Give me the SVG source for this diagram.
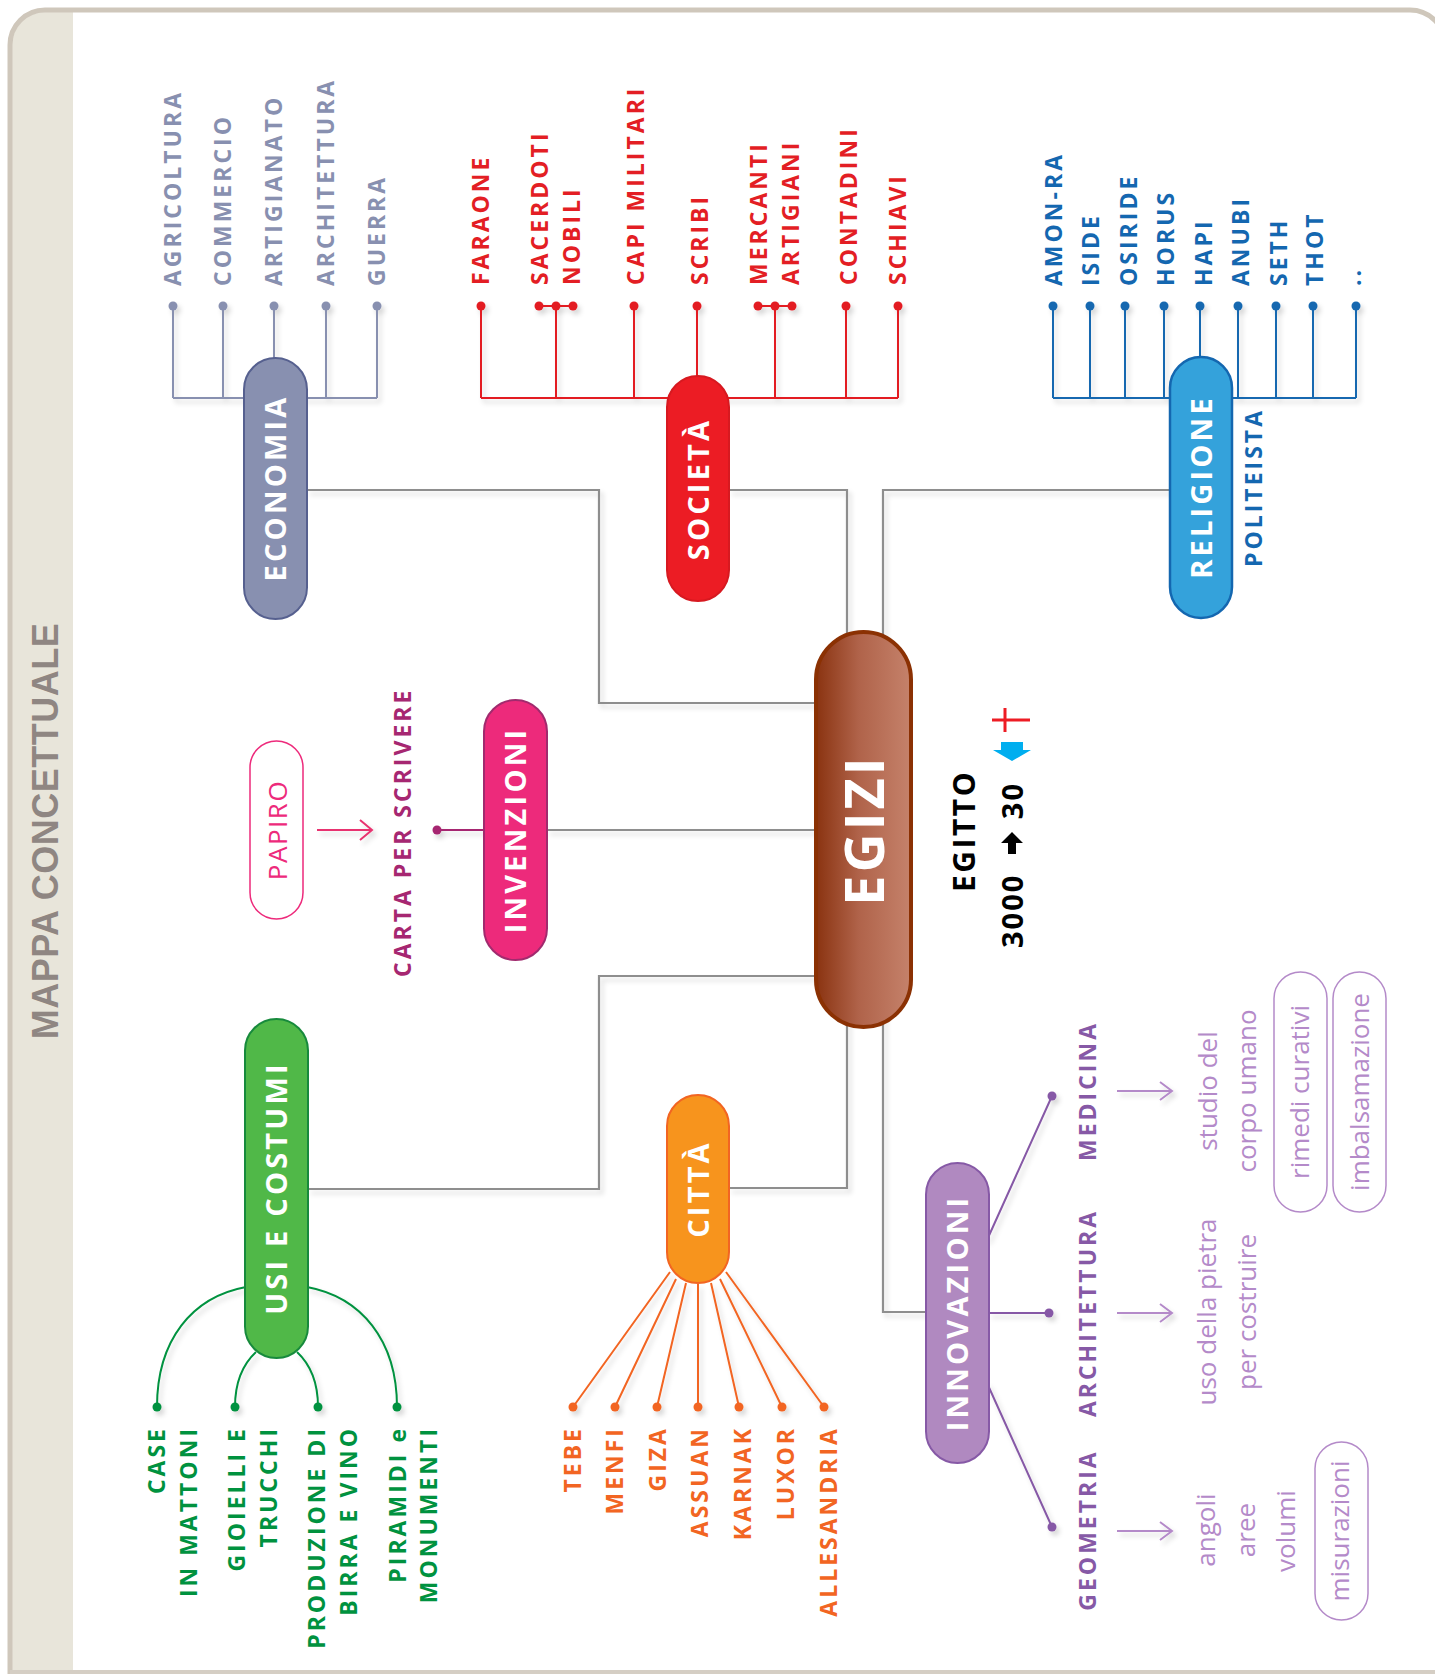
<svg xmlns="http://www.w3.org/2000/svg" width="1435" height="1674" viewBox="0 0 1435 1674">
<defs>
<linearGradient id="egz" x1="0" y1="0" x2="1" y2="0">
<stop offset="0" stop-color="#8a3310"/>
<stop offset="0.45" stop-color="#b0634a"/>
<stop offset="1" stop-color="#c5826b"/>
</linearGradient>
<filter id="sh" filterUnits="userSpaceOnUse" x="0" y="0" width="1435" height="1674">
<feDropShadow dx="3" dy="4" stdDeviation="2.5" flood-color="#000" flood-opacity="0.16"/>
</filter>
</defs>
<style>
text{font-family:"Open Sans","Noto Sans","DejaVu Sans",sans-serif}
.pt{fill:#fff;font-weight:700;font-size:29px;letter-spacing:3.2px;text-anchor:middle}
.lf{font-weight:700;font-size:23px;letter-spacing:3px}
.le{text-anchor:end}
.mid{text-anchor:middle}
.lt{font-weight:400;font-size:26px;fill:#b48ac9;text-anchor:middle}
.gc{fill:none;stroke:#8e8e8e;stroke-width:2.2}
.eco{stroke:#8890b0;fill:none;stroke-width:2}
.soc{stroke:#e31e24;fill:none;stroke-width:2}
.rel{stroke:#1467b0;fill:none;stroke-width:2}
.grn{stroke:#00923f;fill:none;stroke-width:2}
.org{stroke:#f26522;fill:none;stroke-width:2}
.pur{stroke:#8659a6;fill:none;stroke-width:2}
.lpa{stroke:#b48ac9;fill:none;stroke-width:2}
.box{fill:#fff;stroke:#b48ac9;stroke-width:1.5}
</style>

<!-- frame -->
<rect x="0" y="0" width="1435" height="1674" fill="#fff"/>
<path d="M12,1674 V45 A33,33 0 0 1 45,12 H73 V1674 Z" fill="#e8e5da"/>
<path d="M10,1680 V45 A35,35 0 0 1 45,10 H1410 A35,35 0 0 1 1445,45 V1680" fill="none" stroke="#cfc7bb" stroke-width="5"/>
<line x1="10" y1="1672" x2="1435" y2="1672" stroke="#d5cec4" stroke-width="4"/>
<text transform="translate(58,831) rotate(-90)" text-anchor="middle" style="font-family:'Liberation Sans',Arial,sans-serif;font-weight:700;font-size:36px;fill:#8f8682;letter-spacing:0.5px">MAPPA CONCETTUALE</text>

<!-- connectors -->
<g id="connectors" filter="url(#sh)">
<path class="gc" d="M307,490 H599 V703 H817"/>
<path class="gc" d="M729,490 H847 V660"/>
<path class="gc" d="M1170,490 H883 V660"/>
<path class="gc" d="M547,830 H817"/>
<path class="gc" d="M308,1189 H599 V976 H817"/>
<path class="gc" d="M729,1188 H847 V1000"/>
<path class="gc" d="M883,1000 V1312 H926"/>

<g id="eco-links">
<path class="eco" d="M173,398 H377 M173,306 V398 M223,306 V398 M274,306 V398 M326,306 V398 M377,306 V398"/>
<g fill="#8890b0"><circle cx="173" cy="306" r="4.5"/><circle cx="223" cy="306" r="4.5"/><circle cx="274" cy="306" r="4.5"/><circle cx="326" cy="306" r="4.5"/><circle cx="377" cy="306" r="4.5"/></g>
</g>
<g id="soc-links">
<path class="soc" d="M481,398 H898 M481,306 V398 M539,306 H573 M556,306 V398 M634,306 V398 M697,306 V398 M758,306 H792 M775,306 V398 M846,306 V398 M898,306 V398"/>
<g fill="#e31e24"><circle cx="481" cy="306" r="4.5"/><circle cx="539" cy="306" r="4.5"/><circle cx="556" cy="306" r="4.5"/><circle cx="573" cy="306" r="4.5"/><circle cx="634" cy="306" r="4.5"/><circle cx="697" cy="306" r="4.5"/><circle cx="758" cy="306" r="4.5"/><circle cx="775" cy="306" r="4.5"/><circle cx="792" cy="306" r="4.5"/><circle cx="846" cy="306" r="4.5"/><circle cx="898" cy="306" r="4.5"/></g>
</g>
<g id="rel-links">
<path class="rel" d="M1053,398 H1356 M1053,306 V398 M1090,306 V398 M1125,306 V398 M1164,306 V398 M1200,306 V398 M1238,306 V398 M1276,306 V398 M1313,306 V398 M1356,306 V398"/>
<g fill="#1467b0"><circle cx="1053" cy="306" r="4.5"/><circle cx="1090" cy="306" r="4.5"/><circle cx="1125" cy="306" r="4.5"/><circle cx="1164" cy="306" r="4.5"/><circle cx="1200" cy="306" r="4.5"/><circle cx="1238" cy="306" r="4.5"/><circle cx="1276" cy="306" r="4.5"/><circle cx="1313" cy="306" r="4.5"/><circle cx="1356" cy="306" r="4.5"/></g>
</g>
<g id="inv-links">
<path d="M437,830 H486" stroke="#a62771" stroke-width="2" fill="none"/>
<circle cx="437" cy="830" r="4.5" fill="#a62771"/>
<path d="M317,830 H372 M360,820 L372,830 L360,840" stroke="#e8336f" stroke-width="2" fill="none"/>
</g>
<g id="usi-links">
<path class="grn" d="M246,1287 C192,1297 157,1340 157,1407"/>
<path class="grn" d="M256,1352 C242,1365 235,1385 235,1407"/>
<path class="grn" d="M297,1352 C311,1365 318,1385 318,1407"/>
<path class="grn" d="M307,1287 C361,1297 397,1340 397,1407"/>
<g fill="#00923f"><circle cx="157" cy="1407" r="4.5"/><circle cx="235" cy="1407" r="4.5"/><circle cx="318" cy="1407" r="4.5"/><circle cx="397" cy="1407" r="4.5"/></g>
</g>
<g id="citta-links">
<path class="org" d="M670,1272 L573,1407 M676,1279 L615,1407 M686,1283 L657,1407 M698,1284 L698,1407 M711,1283 L739,1407 M720,1279 L782,1407 M726,1272 L824,1407"/>
<g fill="#f26522"><circle cx="573" cy="1407" r="4.5"/><circle cx="615" cy="1407" r="4.5"/><circle cx="657" cy="1407" r="4.5"/><circle cx="698" cy="1407" r="4.5"/><circle cx="739" cy="1407" r="4.5"/><circle cx="782" cy="1407" r="4.5"/><circle cx="824" cy="1407" r="4.5"/></g>
</g>
<g id="inn-links">
<path class="pur" d="M987,1240 L1052,1096 M989,1313 H1049 M987,1383 L1052,1527"/>
<g fill="#8659a6"><circle cx="1052" cy="1096" r="4.5"/><circle cx="1049" cy="1313" r="4.5"/><circle cx="1052" cy="1527" r="4.5"/></g>
<path class="lpa" d="M1117,1091 H1172 M1160,1082 L1172,1091 L1160,1100"/>
<path class="lpa" d="M1117,1313 H1172 M1160,1304 L1172,1313 L1160,1322"/>
<path class="lpa" d="M1117,1531 H1172 M1160,1522 L1172,1531 L1160,1540"/>
</g>
</g>

<!-- central node -->
<g id="egizi">
<rect x="816" y="632" width="95" height="395" rx="47.5" fill="url(#egz)" stroke="#8b3103" stroke-width="4"/>
<text transform="translate(884,830) rotate(-90)" text-anchor="middle" style="fill:#fff;font-weight:700;font-size:54px;letter-spacing:3px">EGIZI</text>
</g>

<g id="egitto">
<text transform="translate(975,892) rotate(-90)" style="font-weight:700;font-size:30px;letter-spacing:2.5px;fill:#000">EGITTO</text>
<text transform="translate(1023,948) rotate(-90)" style="font-weight:700;font-size:29px;letter-spacing:2px;fill:#000">3000</text>
<polygon points="1012,832 1023,843 1016,843 1016,854 1008,854 1008,843 1001,843" fill="#000"/>
<text transform="translate(1023,782) rotate(-90)" text-anchor="end" style="font-weight:700;font-size:29px;letter-spacing:2px;fill:#000">30</text>
<polygon points="1001,742 1023,742 1023,750 1031,750 1012,761 993,750 1001,750" fill="#00aeef"/>
<path d="M992,720 H1030 M1005,708 V732" stroke="#ed1c24" stroke-width="3" fill="none"/>
</g>

<g id="economia">
<rect x="244" y="358" width="63" height="261" rx="31.5" fill="#8890b0" stroke="#56608f" stroke-width="2"/>
<text class="pt" transform="translate(286,488) rotate(-90)">ECONOMIA</text>
</g>
<g id="economia-leaves" class="lf" fill="#8890b0">
<text class="lf" transform="translate(181,286) rotate(-90)" fill="#8890b0">AGRICOLTURA</text>
<text class="lf" transform="translate(231,286) rotate(-90)" fill="#8890b0">COMMERCIO</text>
<text class="lf" transform="translate(282,286) rotate(-90)" fill="#8890b0">ARTIGIANATO</text>
<text class="lf" transform="translate(334,286) rotate(-90)" fill="#8890b0">ARCHITETTURA</text>
<text class="lf" transform="translate(385,286) rotate(-90)" fill="#8890b0">GUERRA</text>
</g>

<g id="societa">
<rect x="667" y="376" width="62" height="225" rx="31" fill="#ec1c24" stroke="#d71920" stroke-width="2"/>
<text class="pt" transform="translate(709,489) rotate(-90)">SOCIETÀ</text>
</g>
<g id="societa-leaves">
<text class="lf" transform="translate(489,285) rotate(-90)" fill="#e31e24">FARAONE</text>
<text class="lf" transform="translate(548,285) rotate(-90)" fill="#e31e24">SACERDOTI</text>
<text class="lf" transform="translate(580,285) rotate(-90)" fill="#e31e24">NOBILI</text>
<text class="lf" transform="translate(644,285) rotate(-90)" fill="#e31e24">CAPI MILITARI</text>
<text class="lf" transform="translate(708,285) rotate(-90)" fill="#e31e24">SCRIBI</text>
<text class="lf" transform="translate(767,285) rotate(-90)" fill="#e31e24">MERCANTI</text>
<text class="lf" transform="translate(799,285) rotate(-90)" fill="#e31e24">ARTIGIANI</text>
<text class="lf" transform="translate(857,285) rotate(-90)" fill="#e31e24">CONTADINI</text>
<text class="lf" transform="translate(906,285) rotate(-90)" fill="#e31e24">SCHIAVI</text>
</g>

<g id="religione">
<rect x="1170" y="357" width="62" height="261" rx="31" fill="#34a2db" stroke="#1467b0" stroke-width="2.5"/>
<text class="pt" transform="translate(1212,487) rotate(-90)">RELIGIONE</text>
<text class="lf" transform="translate(1262,567) rotate(-90)" fill="#1467b0">POLITEISTA</text>
</g>
<g id="religione-leaves">
<text class="lf" transform="translate(1062,286) rotate(-90)" fill="#1467b0">AMON-RA</text>
<text class="lf" transform="translate(1099,286) rotate(-90)" fill="#1467b0">ISIDE</text>
<text class="lf" transform="translate(1137,286) rotate(-90)" fill="#1467b0">OSIRIDE</text>
<text class="lf" transform="translate(1174,286) rotate(-90)" fill="#1467b0">HORUS</text>
<text class="lf" transform="translate(1212,286) rotate(-90)" fill="#1467b0">HAPI</text>
<text class="lf" transform="translate(1249,286) rotate(-90)" fill="#1467b0">ANUBI</text>
<text class="lf" transform="translate(1287,286) rotate(-90)" fill="#1467b0">SETH</text>
<text class="lf" transform="translate(1323,286) rotate(-90)" fill="#1467b0">THOT</text>
<text class="lf" transform="translate(1361,286) rotate(-90)" fill="#1467b0">..</text>
</g>

<g id="invenzioni">
<rect x="484" y="700" width="63" height="260" rx="31.5" fill="#ed2a7b" stroke="#a12a6e" stroke-width="2"/>
<text class="pt" transform="translate(526,830) rotate(-90)">INVENZIONI</text>
</g>
<g id="carta">
<text class="lf" transform="translate(411,977) rotate(-90)" fill="#a62771">CARTA PER SCRIVERE</text>
</g>
<g id="papiro">
<rect x="250" y="741" width="53" height="178" rx="26.5" fill="#fff" stroke="#ed2a7b" stroke-width="1.5"/>
<text transform="translate(287,830) rotate(-90)" text-anchor="middle" style="font-size:26px;letter-spacing:1.5px;fill:#ed2a7b">PAPIRO</text>
</g>

<g id="usi-e-costumi">
<rect x="245" y="1019" width="63" height="339" rx="31.5" fill="#50b848" stroke="#178a3c" stroke-width="2"/>
<text class="pt" transform="translate(287,1188) rotate(-90)">USI E COSTUMI</text>
</g>
<g id="usi-leaves">
<text class="lf le" transform="translate(165,1426) rotate(-90)" fill="#00923f">CASE</text>
<text class="lf le" transform="translate(197,1426) rotate(-90)" fill="#00923f">IN MATTONI</text>
<text class="lf le" transform="translate(245,1426) rotate(-90)" fill="#00923f">GIOIELLI E</text>
<text class="lf le" transform="translate(277,1426) rotate(-90)" fill="#00923f">TRUCCHI</text>
<text class="lf le" transform="translate(325,1426) rotate(-90)" fill="#00923f">PRODUZIONE DI</text>
<text class="lf le" transform="translate(357,1426) rotate(-90)" fill="#00923f">BIRRA E VINO</text>
<text class="lf le" transform="translate(406,1426) rotate(-90)" fill="#00923f">PIRAMIDI e</text>
<text class="lf le" transform="translate(437,1426) rotate(-90)" fill="#00923f">MONUMENTI</text>
</g>

<g id="citta">
<rect x="667" y="1095" width="62" height="188" rx="31" fill="#f7941d" stroke="#f26522" stroke-width="2"/>
<text class="pt" transform="translate(709,1189) rotate(-90)">CITTÀ</text>
</g>
<g id="citta-leaves">
<text class="lf le" transform="translate(581,1426) rotate(-90)" fill="#f26522">TEBE</text>
<text class="lf le" transform="translate(623,1426) rotate(-90)" fill="#f26522">MENFI</text>
<text class="lf le" transform="translate(666,1426) rotate(-90)" fill="#f26522">GIZA</text>
<text class="lf le" transform="translate(708,1426) rotate(-90)" fill="#f26522">ASSUAN</text>
<text class="lf le" transform="translate(751,1426) rotate(-90)" fill="#f26522">KARNAK</text>
<text class="lf le" transform="translate(794,1426) rotate(-90)" fill="#f26522">LUXOR</text>
<text class="lf le" transform="translate(837,1426) rotate(-90)" fill="#f26522">ALLESANDRIA</text>
</g>

<g id="innovazioni">
<rect x="926" y="1163" width="63" height="300" rx="31.5" fill="#b089c0" stroke="#8659a6" stroke-width="2"/>
<text class="pt" transform="translate(968,1313) rotate(-90)">INNOVAZIONI</text>
</g>
<g id="medicina">
<text class="lf mid" transform="translate(1096,1091) rotate(-90)" fill="#8659a6">MEDICINA</text>
<text class="lt" transform="translate(1217,1091) rotate(-90)">studio del</text>
<text class="lt" transform="translate(1256,1091) rotate(-90)">corpo umano</text>
<rect class="box" x="1274" y="972" width="53" height="240" rx="26.5"/>
<text class="lt" transform="translate(1309,1092) rotate(-90)">rimedi curativi</text>
<rect class="box" x="1333" y="972" width="53" height="240" rx="26.5"/>
<text class="lt" transform="translate(1369,1092) rotate(-90)">imbalsamazione</text>
</g>
<g id="architettura">
<text class="lf mid" transform="translate(1096,1313) rotate(-90)" fill="#8659a6">ARCHITETTURA</text>
<text class="lt" transform="translate(1216,1312) rotate(-90)">uso della pietra</text>
<text class="lt" transform="translate(1256,1312) rotate(-90)">per costruire</text>
</g>
<g id="geometria">
<text class="lf mid" transform="translate(1096,1530) rotate(-90)" fill="#8659a6">GEOMETRIA</text>
<text class="lt" transform="translate(1215,1530) rotate(-90)">angoli</text>
<text class="lt" transform="translate(1255,1530) rotate(-90)">aree</text>
<text class="lt" transform="translate(1295,1531) rotate(-90)">volumi</text>
<rect class="box" x="1315" y="1442" width="53" height="178" rx="26.5"/>
<text class="lt" transform="translate(1349,1531) rotate(-90)">misurazioni</text>
</g>
</svg>
